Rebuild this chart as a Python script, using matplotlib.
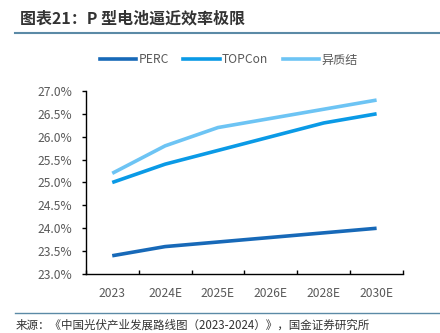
import matplotlib
matplotlib.use("Agg")
import matplotlib.pyplot as plt
from matplotlib.lines import Line2D
import numpy as np

plt.rcParams['font.family'] = ['Noto Sans CJK SC', 'DejaVu Sans']

categories = ["2023", "2024E", "2025E", "2026E", "2028E", "2030E"]
perc = [23.4, 23.6, 23.7, 23.8, 23.9, 24.0]
topcon = [25.0, 25.4, 25.7, 26.0, 26.3, 26.5]
hjt = [25.2, 25.8, 26.2, 26.4, 26.6, 26.8]
series_names = ["PERC", "TOPCon", "异质结"]
colors = ["#1769b8", "#0a9ae6", "#6dc4f4"]

fig = plt.figure(figsize=(4.4, 3.33), dpi=100)
ax = fig.add_axes([0.195, 0.177, 0.721, 0.550])

x = np.arange(len(categories))
for vals, c, n in zip([perc, topcon, hjt], colors, series_names):
    ax.plot(x, vals, color=c, lw=2.6, label=n, solid_capstyle='butt')

ax.set_xlim(-0.5, len(categories) - 0.5)
ax.set_ylim(23.0, 27.0)
ax.set_yticks(np.arange(23.0, 27.01, 0.5))
ax.set_yticklabels([f"{v:.1f}%" for v in np.arange(23.0, 27.01, 0.5)])
ax.set_xticks(x)
ax.set_xticklabels(categories)
ax.tick_params(axis='x', length=0, pad=9, labelsize=8.7, labelcolor='#595959')
ax.set_xticks(np.arange(-0.5, len(categories), 1.0), minor=True)
ax.tick_params(axis='x', which='minor', direction='in', length=3, width=1, color='black')
ax.tick_params(axis='y', direction='out', length=3, width=1, labelsize=8.7, labelcolor='#595959', pad=7)
for s in ['top', 'right']:
    ax.spines[s].set_visible(False)
ax.spines['left'].set_linewidth(1)
ax.spines['bottom'].set_linewidth(1)

handles = [Line2D([0], [0], color=c, lw=2.6) for c in colors]
fig.legend(handles, series_names, loc='center', bbox_to_anchor=(0.52, 0.82), ncol=3,
           frameon=False, fontsize=8.7, handlelength=3.0, handletextpad=0.2,
           columnspacing=1.2, labelcolor='#595959')

fig.text(0.045, 0.945, "图表21：P 型电池逼近效率极限", fontsize=11.5, fontweight='bold',
         color='#333333', ha='left', va='center', style='italic')
fig.add_artist(Line2D([0.035, 1.0], [0.9, 0.9], color='#5b8aa6', lw=1.5, transform=fig.transFigure))
fig.add_artist(Line2D([0.035, 1.0], [0.06, 0.06], color='#5b8aa6', lw=1.0, transform=fig.transFigure))
fig.text(0.035, 0.025, "来源：《中国光伏产业发展路线图（2023-2024）》，国金证券研究所", fontsize=8.3,
         color='#333333', ha='left', va='center')

fig.savefig("out.png", dpi=100)
